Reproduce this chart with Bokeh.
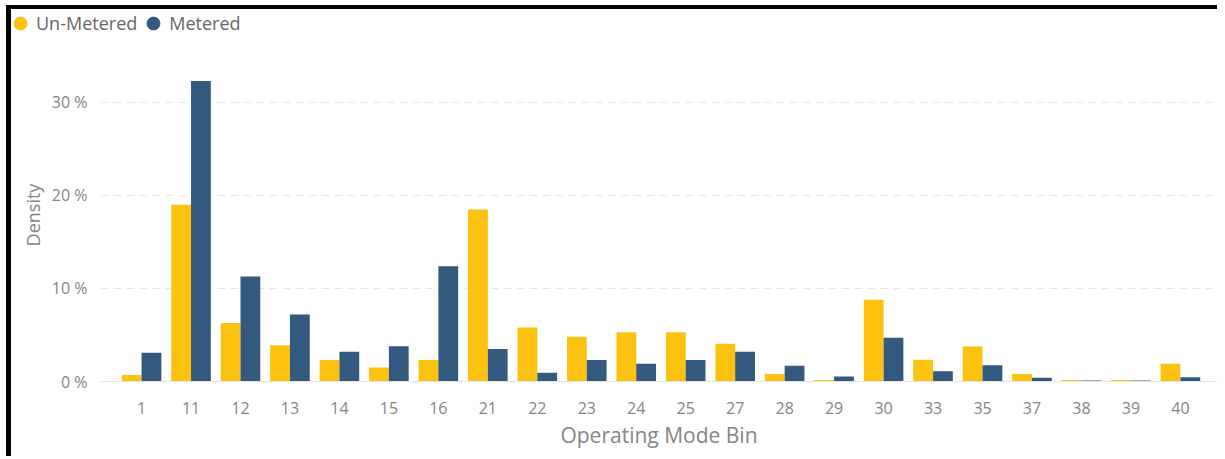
from bokeh.plotting import figure
from bokeh.layouts import column, row
from bokeh.models import (Range1d, FixedTicker, PrintfTickFormatter, ColumnDataSource,
                          Legend, LegendItem)
from bokeh.embed import file_html
from bokeh.resources import INLINE

categories = ["1", "11", "12", "13", "14", "15", "16", "21", "22", "23", "24",
              "25", "27", "28", "29", "30", "33", "35", "37", "38", "39", "40"]
un_metered = [0.7, 19.0, 6.3, 3.9, 2.3, 1.5, 2.3, 18.5, 5.8, 4.8, 5.3,
              5.3, 4.05, 0.8, 0.15, 8.8, 2.35, 3.75, 0.8, 0.15, 0.15, 1.9]
metered = [3.1, 32.3, 11.3, 7.2, 3.2, 3.8, 12.4, 3.5, 0.95, 2.3, 1.9,
           2.3, 3.2, 1.7, 0.55, 4.7, 1.1, 1.75, 0.4, 0.12, 0.12, 0.45]
series_names = ["Un-Metered", "Metered"]
y_ticks = [0, 10, 20, 30]

YELLOW = "#FDC20F"
BLUE = "#34597E"
FONT = "Open Sans"
W = 1206

idx = list(range(len(categories)))
src = ColumnDataSource(dict(
    xu=[i - 0.2 for i in idx], xm=[i + 0.2 for i in idx],
    u=un_metered, m=metered))

# ---- legend strip -------------------------------------------------------
lf = figure(width=W, height=30, output_backend="svg", toolbar_location=None,
            x_axis_type=None, y_axis_type=None,
            x_range=Range1d(0, 1), y_range=Range1d(0, 1),
            min_border_left=0, min_border_right=0, min_border_top=0,
            min_border_bottom=0)
lf.outline_line_color = None
lf.xgrid.visible = False
lf.ygrid.visible = False
# legend-only renderers (their point lies outside the visible range)
key_src = ColumnDataSource(dict(x=[-10], y=[-10]))
r_u = lf.scatter(x="x", y="y", source=key_src, marker="circle", color=YELLOW)
r_m = lf.scatter(x="x", y="y", source=key_src, marker="circle", color=BLUE)
legend = Legend(items=[LegendItem(label=series_names[0], renderers=[r_u]),
                       LegendItem(label=series_names[1], renderers=[r_m])],
                orientation="horizontal", location=(-7, 0),
                glyph_width=32, glyph_height=32, label_standoff=0, spacing=0,
                padding=0, margin=0, border_line_color=None,
                background_fill_alpha=0,
                label_text_font=FONT, label_text_font_size="18px",
                label_text_color="#666666")
lf.add_layout(legend, "center")

# ---- main chart ---------------------------------------------------------
p = figure(width=W, height=417, output_backend="svg", toolbar_location=None,
           x_range=Range1d(-0.83, 21.75), y_range=Range1d(0, 35.8),
           min_border_left=89, min_border_right=0, min_border_top=9,
           min_border_bottom=75)
p.outline_line_color = None

p.vbar(x="xu", top="u", width=0.4, source=src, color=YELLOW, line_color=None)
p.vbar(x="xm", top="m", width=0.4, source=src, color=BLUE, line_color=None)

p.xaxis.ticker = FixedTicker(ticks=idx)
p.xaxis.major_label_overrides = {i: c for i, c in zip(idx, categories)}
p.xaxis.axis_label = "Operating Mode Bin"
p.yaxis.ticker = FixedTicker(ticks=y_ticks)
p.yaxis.formatter = PrintfTickFormatter(format="%d %%")
p.yaxis.axis_label = "Density"

for ax in (p.xaxis[0], p.yaxis[0]):
    ax.major_tick_line_color = None
    ax.minor_tick_line_color = None
    ax.major_tick_out = 0
    ax.major_label_text_font = FONT
    ax.major_label_text_font_size = "16px"
    ax.major_label_text_color = "#858585"
    ax.axis_label_text_font = FONT
    ax.axis_label_text_font_style = "normal"
    ax.axis_label_text_color = "#858585"

p.xaxis.axis_line_color = "#e4e4e4"
p.yaxis.axis_line_color = None
p.xaxis.major_label_standoff = 20
p.xaxis.axis_label_text_font_size = "21px"
p.xaxis.axis_label_standoff = 4
p.yaxis.major_label_standoff = 13
p.yaxis.axis_label_text_font_size = "18px"
p.yaxis.axis_label_standoff = 4

p.xgrid.grid_line_color = None
p.ygrid.grid_line_color = "#e8e8e8"
p.ygrid.grid_line_dash = "8 5"

layout = column(row(lf, spacing=0), p, spacing=0)
layout.styles = {"position": "relative", "left": "6px", "top": "5px",
                 "border-left": "5px solid black", "border-top": "4px solid black"}

open("out.html", "w").write(file_html(layout, INLINE))
